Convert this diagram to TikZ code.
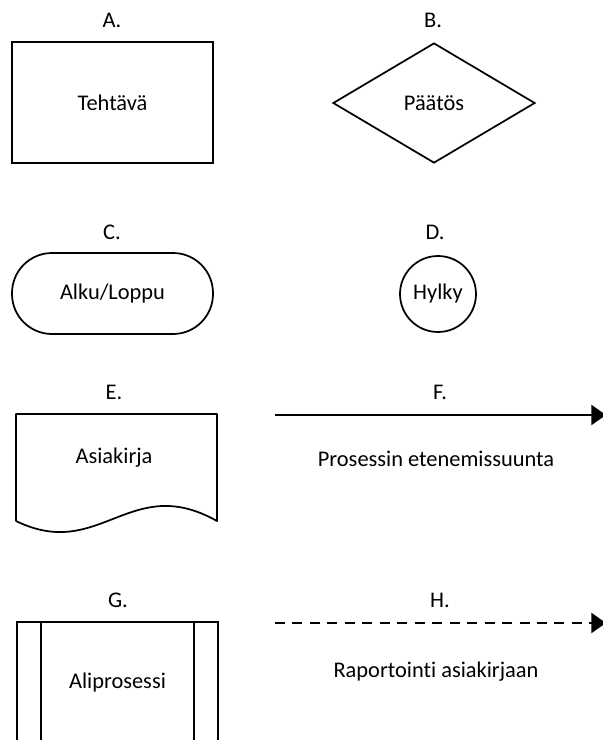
\documentclass[tikz,border=0pt]{standalone}
\usepackage{fontspec}
\setmainfont{Carlito}[Ligatures=NoCommon]
\usetikzlibrary{shapes.geometric,arrows.meta}
\newdimen\px
\px=0.75pt

\begin{document}
\begin{tikzpicture}[x=\px,y=-\px,
  font=\fontsize{16.8}{20}\selectfont,
  shapebox/.style={draw,line width=1.3pt,inner sep=0pt},
  outline/.style={line width=1.3pt,line join=round},
  flowline/.style={line width=1.8pt,-{Triangle[length=11pt,width=15pt]}}]
\clip (0,0) rectangle (603,740);

\node (A) at (112,20) {A.};
\node[shapebox,minimum width=201\px,minimum height=121\px] (tehtava) at (112.5,102.5) {Tehtävä};

\node (B) at (433,20) {B.};
\node[shapebox,diamond,minimum width=202\px,minimum height=120\px] (paatos) at (434,103) {Päätös};

\node (C) at (112,232) {C.};
\node[shapebox,rounded corners=40\px,minimum width=201\px,minimum height=81\px] (alku) at (112.5,293.5) {Alku/Loppu};

\node (D) at (435,232) {D.};
\node[shapebox,circle,minimum size=76\px] (hylky) at (438,294) {Hylky};

\node (E) at (114,392) {E.};
\node (asiakirja) at (114,458) {Asiakirja};
\draw[outline] (16,521) -- (16,414) -- (217,414) -- (217,521)
  .. controls (130,472) and (100,562) .. (16,521);

\node (F) at (440,392) {F.};
\coordinate (fstart) at (275,415);
\coordinate (fend) at (606,415);
\draw[flowline] (fstart) -- (fend);
\node (etenemis) at (436,459) {Prosessin etenemissuunta};

\node (G) at (118,600) {G.};
\node[shapebox,minimum width=201\px,minimum height=121\px] (aliprosessi) at (117.5,682.5) {Aliprosessi};
\draw[outline] ([xshift=25\px]aliprosessi.north west) -- ([xshift=25\px]aliprosessi.south west);
\draw[outline] ([xshift=-25\px]aliprosessi.north east) -- ([xshift=-25\px]aliprosessi.south east);

\node (H) at (440,600) {H.};
\coordinate (hstart) at (275,623);
\coordinate (hend) at (606,623);
\draw[flowline,dash pattern=on 7.5pt off 5.6pt] (hstart) -- (hend);
\node (raportointi) at (436,672) {Raportointi asiakirjaan};
\end{tikzpicture}
\end{document}
